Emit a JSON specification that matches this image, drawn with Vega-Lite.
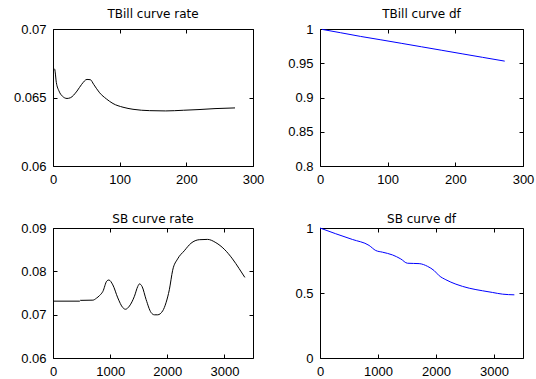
{
  "$schema": "https://vega.github.io/schema/vega-lite/v6.json",
  "background": "white",
  "padding": {"left": 12, "top": 7, "right": 2, "bottom": 1},
  "bounds": "flush",
  "columns": 2,
  "spacing": {"column": 67, "row": 62},
  "config": {
    "view": {"stroke": "black", "strokeWidth": 1},
    "axis": {
      "grid": false, "domain": false, "ticks": true, "tickSize": -4, "tickColor": "black", "tickWidth": 1,
      "labelColor": "black", "labelFont": "Liberation Sans", "labelFontSize": 13,
      "labelFlush": false, "labelOverlap": false, "title": null
    },
    "axisX": {"labelPadding": 11, "format": "d"},
    "axisY": {"labelPadding": 11},
    "title": {"font": "DejaVu Sans", "fontSize": 12, "fontWeight": "normal", "color": "black", "anchor": "middle", "baseline": "alphabetic"}
  },
  "datasets": {
    "tlr": [
      {"t": 1, "v": 0.06712}, {"t": 2.5, "v": 0.06706}, {"t": 5, "v": 0.0661}, {"t": 9, "v": 0.06547}, {"t": 14, "v": 0.0651},
      {"t": 21, "v": 0.06493}, {"t": 26, "v": 0.06498}, {"t": 36, "v": 0.06547}, {"t": 43, "v": 0.06596},
      {"t": 51, "v": 0.06632}, {"t": 56, "v": 0.0663}, {"t": 61, "v": 0.06596}, {"t": 70, "v": 0.06534},
      {"t": 80, "v": 0.0649}, {"t": 90, "v": 0.06456}, {"t": 105, "v": 0.06429}, {"t": 120, "v": 0.06414},
      {"t": 145, "v": 0.06404}, {"t": 169, "v": 0.06402}, {"t": 196, "v": 0.06407}, {"t": 219, "v": 0.06412},
      {"t": 243, "v": 0.06419}, {"t": 273, "v": 0.06424}
    ],
    "tdf": [
      {"t": 3, "v": 0.99945}, {"t": 30, "v": 0.99464}, {"t": 60, "v": 0.98916}, {"t": 90, "v": 0.9842},
      {"t": 120, "v": 0.97913}, {"t": 150, "v": 0.97403}, {"t": 180, "v": 0.96892}, {"t": 210, "v": 0.9638},
      {"t": 240, "v": 0.95868}, {"t": 273, "v": 0.95309}
    ],
    "sbr": [
      {"t": 0, "v": 0.07312}, {"t": 465, "v": 0.07312}, {"t": 480, "v": 0.0733}, {"t": 698, "v": 0.07335},
      {"t": 760, "v": 0.0738}, {"t": 814, "v": 0.0744}, {"t": 873, "v": 0.07537}, {"t": 942, "v": 0.07777},
      {"t": 977, "v": 0.078}, {"t": 1047, "v": 0.07687}, {"t": 1134, "v": 0.07387}, {"t": 1222, "v": 0.07162},
      {"t": 1268, "v": 0.07125}, {"t": 1338, "v": 0.072}, {"t": 1425, "v": 0.07425}, {"t": 1483, "v": 0.0765},
      {"t": 1513, "v": 0.0771}, {"t": 1559, "v": 0.0765}, {"t": 1629, "v": 0.0735}, {"t": 1716, "v": 0.0705},
      {"t": 1774, "v": 0.06997}, {"t": 1832, "v": 0.06997}, {"t": 1920, "v": 0.07088}, {"t": 1978, "v": 0.07275},
      {"t": 2036, "v": 0.07575}, {"t": 2094, "v": 0.08025}, {"t": 2181, "v": 0.08287}, {"t": 2298, "v": 0.08475},
      {"t": 2414, "v": 0.08647}, {"t": 2560, "v": 0.0873}, {"t": 2705, "v": 0.08737}, {"t": 2850, "v": 0.08662},
      {"t": 2996, "v": 0.08512}, {"t": 3141, "v": 0.08287}, {"t": 3258, "v": 0.08062}, {"t": 3357, "v": 0.0786}
    ],
    "sdf": [
      {"t": 0, "v": 1.0}, {"t": 270, "v": 0.956}, {"t": 558, "v": 0.912}, {"t": 846, "v": 0.866},
      {"t": 961, "v": 0.827}, {"t": 1077, "v": 0.814}, {"t": 1249, "v": 0.793}, {"t": 1393, "v": 0.762},
      {"t": 1508, "v": 0.729}, {"t": 1710, "v": 0.726}, {"t": 1854, "v": 0.705}, {"t": 1969, "v": 0.672},
      {"t": 2055, "v": 0.633}, {"t": 2170, "v": 0.602}, {"t": 2343, "v": 0.568}, {"t": 2573, "v": 0.537},
      {"t": 2804, "v": 0.517}, {"t": 2976, "v": 0.504}, {"t": 3149, "v": 0.491}, {"t": 3351, "v": 0.486}
    ]
  },
  "concat": [
    {
      "title": {"text": "TBill curve rate", "offset": 2},
      "width": 200, "height": 137,
      "data": {"name": "tlr"},
      "layer": [
        {"mark": {"type": "line", "color": "black", "strokeWidth": 1, "interpolate": "monotone"},
         "encoding": {
           "x": {"field": "t", "type": "quantitative", "scale": {"domain": [0, 300], "nice": false}, "axis": {"orient": "bottom", "values": [0, 100, 200, 300]}},
           "y": {"field": "v", "type": "quantitative", "scale": {"domain": [0.06, 0.07], "nice": false, "zero": false}, "axis": {"orient": "left", "values": [0.06, 0.065, 0.07], "format": "~g"}}
         }},
        {"mark": {"type": "line", "opacity": 0},
         "encoding": {
           "x": {"field": "t", "type": "quantitative", "axis": {"orient": "top", "labels": false, "values": [0, 100, 200, 300]}},
           "y": {"field": "v", "type": "quantitative", "axis": {"orient": "right", "labels": false, "values": [0.06, 0.065, 0.07]}}
         }}
      ],
      "resolve": {"axis": {"x": "independent", "y": "independent"}}
    },
    {
      "title": {"text": "TBill curve df", "offset": 2},
      "width": 203, "height": 137,
      "data": {"name": "tdf"},
      "layer": [
        {"mark": {"type": "line", "color": "#0000ff", "strokeWidth": 1},
         "encoding": {
           "x": {"field": "t", "type": "quantitative", "scale": {"domain": [0, 300], "nice": false}, "axis": {"orient": "bottom", "values": [0, 100, 200, 300]}},
           "y": {"field": "v", "type": "quantitative", "scale": {"domain": [0.8, 1], "nice": false, "zero": false}, "axis": {"orient": "left", "values": [0.8, 0.85, 0.9, 0.95, 1], "format": "~g"}}
         }},
        {"mark": {"type": "line", "opacity": 0},
         "encoding": {
           "x": {"field": "t", "type": "quantitative", "axis": {"orient": "top", "labels": false, "values": [0, 100, 200, 300]}},
           "y": {"field": "v", "type": "quantitative", "axis": {"orient": "right", "labels": false, "values": [0.8, 0.85, 0.9, 0.95, 1]}}
         }}
      ],
      "resolve": {"axis": {"x": "independent", "y": "independent"}}
    },
    {
      "title": {"text": "SB curve rate", "offset": -4},
      "width": 200, "height": 130,
      "data": {"name": "sbr"},
      "layer": [
        {"mark": {"type": "line", "color": "black", "strokeWidth": 1, "interpolate": "monotone"},
         "encoding": {
           "x": {"field": "t", "type": "quantitative", "scale": {"domain": [0, 3500], "nice": false}, "axis": {"orient": "bottom", "values": [0, 1000, 2000, 3000]}},
           "y": {"field": "v", "type": "quantitative", "scale": {"domain": [0.06, 0.09], "nice": false, "zero": false}, "axis": {"orient": "left", "values": [0.06, 0.07, 0.08, 0.09], "format": "~g"}}
         }},
        {"mark": {"type": "line", "opacity": 0},
         "encoding": {
           "x": {"field": "t", "type": "quantitative", "axis": {"orient": "top", "labels": false, "values": [0, 1000, 2000, 3000]}},
           "y": {"field": "v", "type": "quantitative", "axis": {"orient": "right", "labels": false, "values": [0.06, 0.07, 0.08, 0.09]}}
         }}
      ],
      "resolve": {"axis": {"x": "independent", "y": "independent"}}
    },
    {
      "title": {"text": "SB curve df", "offset": -4},
      "width": 203, "height": 130,
      "data": {"name": "sdf"},
      "layer": [
        {"mark": {"type": "line", "color": "#0000ff", "strokeWidth": 1, "interpolate": "monotone"},
         "encoding": {
           "x": {"field": "t", "type": "quantitative", "scale": {"domain": [0, 3500], "nice": false}, "axis": {"orient": "bottom", "values": [0, 1000, 2000, 3000]}},
           "y": {"field": "v", "type": "quantitative", "scale": {"domain": [0, 1], "nice": false}, "axis": {"orient": "left", "values": [0, 0.5, 1], "format": "~g"}}
         }},
        {"mark": {"type": "line", "opacity": 0},
         "encoding": {
           "x": {"field": "t", "type": "quantitative", "axis": {"orient": "top", "labels": false, "values": [0, 1000, 2000, 3000]}},
           "y": {"field": "v", "type": "quantitative", "axis": {"orient": "right", "labels": false, "values": [0, 0.5, 1]}}
         }}
      ],
      "resolve": {"axis": {"x": "independent", "y": "independent"}}
    }
  ]
}
